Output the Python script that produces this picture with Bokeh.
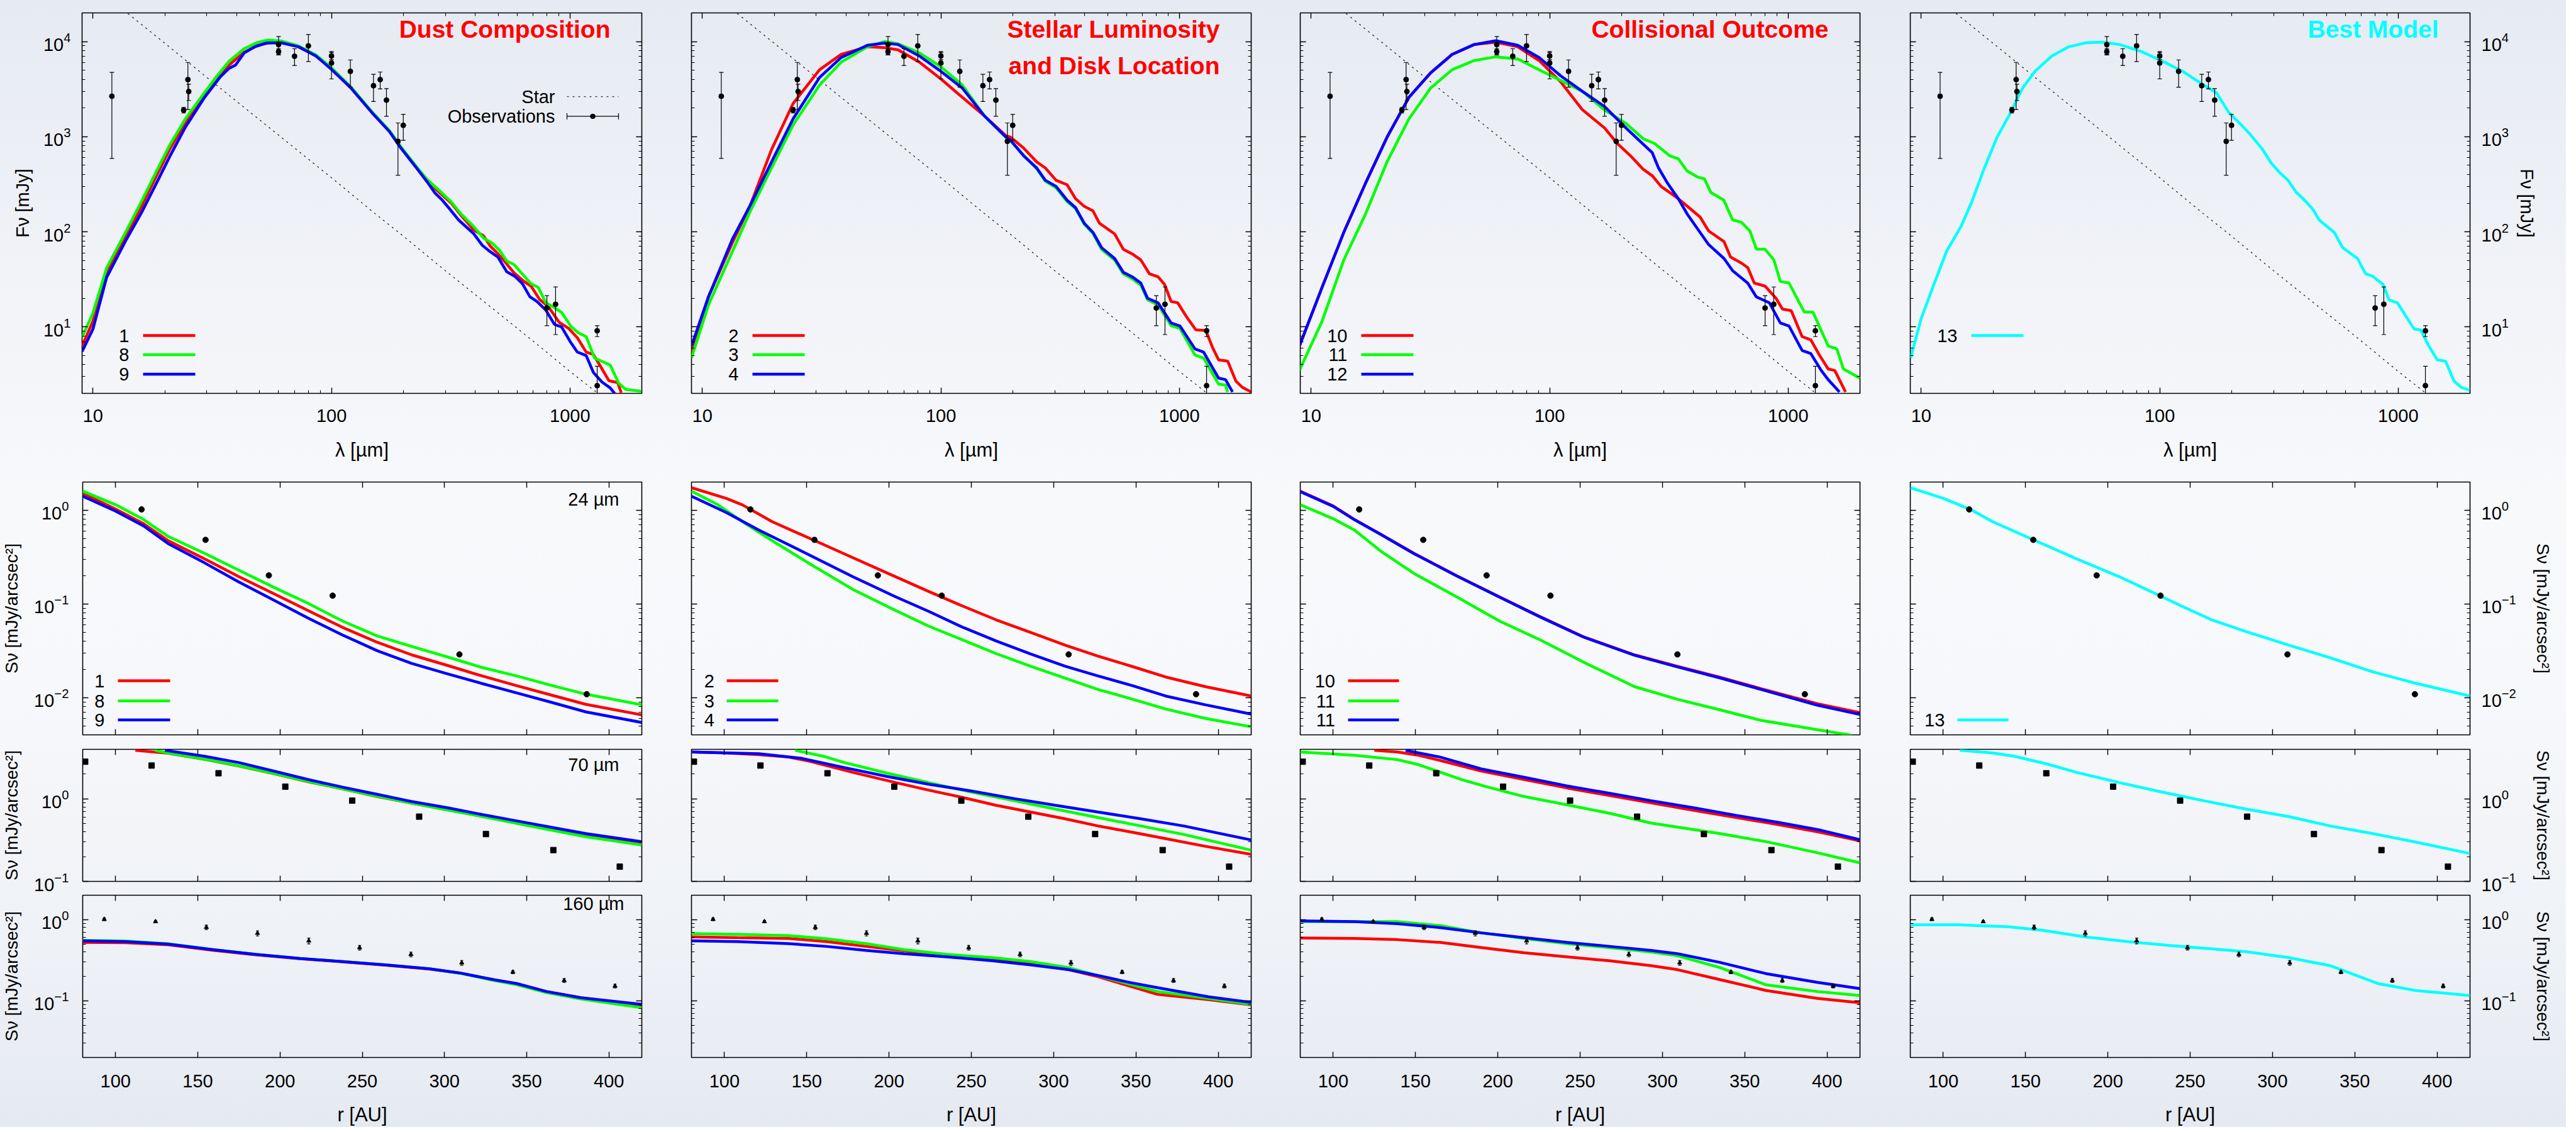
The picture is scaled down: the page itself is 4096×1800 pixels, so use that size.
import math
from bokeh.plotting import figure
from bokeh.models import (LogAxis, LinearAxis, FixedTicker, PrintfTickFormatter,
                          CustomJSTickFormatter, Label, Arrow, Range1d)
from bokeh.layouts import column, row
from bokeh.embed import file_html
from bokeh.resources import INLINE

FONT = "Liberation Sans"
RED, GREEN, BLUE, CYAN = "#ff0000", "#00ff00", "#0000ff", "#00ffff"

# ---------------- SED observations ----------------
obs_wl = [12, 24, 25, 25.2, 60, 60, 70, 80, 100, 100, 120, 150, 160, 170, 190, 200, 800, 870, 1300, 1300]
obs_f = [2660, 1900, 3980, 2980, 9290, 7830, 7000, 9010, 7050, 5945, 4860, 3430, 3980, 2420, 893, 1315, 15.8, 17.3, 9.1, 2.41]
obs_e = [2070, 130, 2050, 580, 2000, 600, 1400, 2850, 600, 1900, 1550, 1090, 800, 780, 500, 400, 5.5, 9.0, 1.2, 1.45]

star_wl = [14, 20, 30, 50, 70, 100, 150, 200, 300, 500, 700, 1000, 1400]
star_f = [19700, 9600, 4200, 1500, 760, 370, 160, 90, 39, 14, 7.1, 3.4, 1.75]

# ---------------- SED models ----------------
wl1 = [9, 10, 11.4, 13.7, 16, 18.4, 21, 24.4, 29.4, 33, 37.3, 43, 49, 56, 62, 72.7, 86, 100, 120, 148, 175, 195, 230, 252, 277, 319, 350, 394, 434, 465, 499, 535, 583, 641, 687, 745, 810, 900, 984, 1073, 1169, 1253, 1362, 1458, 1585, 1640]
f1 = [6.3, 11.5, 36, 90, 185, 380, 740, 1400, 2750, 4000, 5700, 7700, 9100, 9850, 9800, 8800, 7100, 5150, 3300, 1790, 1140, 770, 455, 340, 273, 198, 148, 105, 90.6, 69.8, 58.6, 47.9, 36.9, 30.1, 26.8, 19.5, 16.4, 11.2, 9.7, 7.7, 5.43, 5.13, 3.62, 2.71, 2.6, 2.03]
wl8 = [9, 10, 11.4, 13.7, 16, 18.4, 21, 24.4, 29.4, 33, 37.3, 43, 49, 54, 62, 72.7, 86, 100, 120, 148, 175, 195, 230, 253, 284, 319, 350, 394, 434, 471, 506, 543, 583, 632, 687, 736, 792, 861, 922, 1013, 1084, 1169, 1268, 1374, 1475, 1600, 1714, 1860, 2000]
f8 = [7.8, 14, 41.5, 99, 210, 427, 820, 1538, 2925, 4300, 6240, 8400, 9800, 10380, 10100, 9000, 7250, 5300, 3380, 1820, 1160, 790, 465, 350, 270, 204, 153, 114, 85.5, 76.2, 64, 49.3, 45.2, 35.8, 28.4, 26, 17.9, 15.9, 14.2, 10, 8.65, 7.9, 4.7, 4.3, 3.96, 2.56, 2.2, 2.15, 2.1]
wl9 = [9, 10, 11.4, 13.8, 16, 18.4, 21, 24.4, 29.4, 34.2, 37.2, 39.6, 43.1, 47.7, 53.2, 61.5, 72.7, 86, 100, 120, 148, 175, 195, 230, 252, 271, 291, 311, 342, 394, 429, 454, 499, 543, 589, 632, 679, 728, 792, 861, 922, 1000, 1073, 1169, 1253, 1362, 1475, 1544]
f9 = [5.5, 9.5, 33, 83, 160, 319, 620, 1256, 2600, 4250, 5230, 5650, 7600, 8810, 9630, 9700, 8810, 7050, 5100, 3300, 1780, 1130, 764, 450, 334, 257, 216, 177, 132, 96, 72, 64, 54, 38, 33.8, 28.4, 20.7, 18.4, 15, 10.6, 10, 7.06, 5.44, 4.99, 3.32, 2.63, 2.28, 1.97]

wl2 = [9, 10.6, 13.4, 15.9, 19.5, 24, 31, 38.2, 49.2, 58.1, 66.1, 81.2, 100, 123, 152, 187.5, 196, 222, 252, 274, 304, 338, 367, 399, 434, 462, 535, 582, 634, 689, 749, 814, 867, 923, 984, 1070, 1172, 1291, 1376, 1460, 1594, 1726, 1834, 2000]
f2 = [5.2, 20.7, 78, 192, 733, 2230, 5050, 7330, 8810, 8610, 8180, 6080, 4040, 2590, 1656, 1023, 986, 760, 543, 469, 348, 312, 223, 185, 166, 123, 94.9, 65.4, 58.6, 50.5, 36.1, 33.6, 27.9, 18.5, 17.9, 12.8, 9.3, 9.15, 6.1, 4.5, 4.36, 2.69, 2.32, 2.07]
wl3 = [9, 10.6, 13.4, 15.9, 19.5, 24, 31, 38.2, 49.2, 58.1, 66.1, 81.2, 100, 123, 152, 187.5, 196, 222, 252, 274, 304, 338, 367, 399, 434, 472, 535, 582, 634, 689, 735, 814, 923, 1006, 1163, 1263, 1460, 1561, 1594]
f3 = [4.7, 17, 63, 166, 469, 1327, 3485, 6080, 8810, 10000, 9490, 7600, 5430, 3485, 1656, 986, 900, 640, 460, 340, 290, 208, 175, 120, 96, 65, 50.5, 36, 32, 27.5, 19.3, 17, 10.3, 9.6, 5.05, 4.7, 2.5, 2.45, 2.07]
wl4 = [9, 10.6, 13.4, 15.9, 19.5, 24, 31, 38.2, 49.2, 58.1, 66.1, 81.2, 100, 123, 152, 187.5, 196, 222, 252, 274, 304, 338, 367, 399, 434, 472, 535, 582, 634, 689, 735, 814, 923, 1006, 1163, 1263, 1460, 1561, 1670]
f4 = [6.3, 20.7, 85, 192, 543, 1538, 4195, 6800, 9140, 9630, 9290, 7050, 4860, 3240, 1656, 986, 915, 631, 469, 348, 300, 215, 179, 123, 98.6, 68, 52.4, 37.5, 33.6, 28.9, 20, 17.9, 11, 10.2, 5.86, 5.44, 2.89, 2.79, 2.07]

wl10 = [8.93, 11.1, 13.7, 16.9, 20.8, 25.7, 31.7, 39, 48.2, 59.5, 73.4, 90.3, 111.3, 137, 170, 192, 218, 247, 269, 293, 346, 384, 427, 464, 538, 573, 636, 677, 721, 800, 889, 946, 1030, 1144, 1244, 1352, 1471, 1568, 1740]
f10 = [6.3, 25.9, 98.6, 324, 986, 2590, 4690, 7330, 9290, 9850, 8810, 6310, 3750, 1923, 1231, 849, 631, 452, 389, 300, 223, 179, 143, 102, 78.9, 54.3, 46.9, 42, 28.9, 26.8, 20, 15.4, 14.8, 7.9, 7.3, 5.05, 3.61, 3.48, 2.07]
wl11 = [8.93, 11.1, 13.7, 16.9, 20.8, 25.7, 31.7, 39, 48.2, 59.5, 73.4, 90.3, 111.3, 137, 169, 209, 247, 275, 318, 346, 377, 418, 445, 474, 537, 585, 636, 691, 736, 800, 871, 927, 1008, 1168, 1270, 1471, 1600, 1704, 1999]
f11 = [3.5, 11.4, 50.5, 154, 543, 1538, 3240, 5050, 6310, 6900, 6550, 5050, 3890, 3000, 1923, 1376, 948, 849, 631, 586, 435, 375, 361, 259, 215, 133, 126, 102, 65.5, 65.5, 50.5, 30, 28.9, 14.3, 14.3, 6.3, 5.86, 3.61, 2.89]
wl12 = [8.93, 11.1, 13.7, 16.9, 20.8, 25.7, 31.7, 39, 48.2, 59.5, 73.4, 90.3, 111.3, 137, 170, 209, 237, 269, 286, 312, 346, 377, 427, 464, 538, 585, 676, 735, 834, 927, 1008, 1144, 1244, 1376, 1471, 1640]
f12 = [6.3, 25.9, 98.6, 324, 986, 2590, 4690, 7330, 9290, 10200, 9140, 6800, 4350, 3000, 2070, 1231, 915, 679, 469, 324, 223, 154, 98.6, 73.3, 52.4, 38.9, 28.9, 20.7, 17.9, 11, 10.2, 5.65, 5.24, 3.48, 2.79, 2.07]

wl13 = [9.03, 10, 11.3, 12.8, 14.7, 16.3, 18.4, 20.8, 23.5, 26.6, 30, 35.3, 41.6, 49, 57.6, 67.9, 83.3, 101.5, 124.8, 152.9, 173, 195, 220, 239, 270, 294, 318, 345, 374, 405, 439, 466, 539, 585, 675, 730, 778, 864, 915, 992, 1166, 1241, 1344, 1458, 1580, 1714, 1835, 1995]
f13 = [4.7, 12.3, 27.9, 63, 114, 207, 469, 986, 1718, 3240, 4860, 7050, 8810, 9700, 9850, 9290, 7890, 6310, 4860, 3485, 2890, 1786, 1327, 1062, 733, 524, 420, 348, 259, 215, 172, 133, 98.6, 68, 52.4, 36.1, 34.3, 27.9, 19.2, 17.9, 9.5, 9.3, 6.3, 4.5, 4.36, 2.69, 2.32, 2.15]

# ---------------- radial profile observations ----------------
r24_obs = [115.8, 154.7, 193.2, 232.0, 309.1, 386.5]
s24_obs = [1.02, 0.483, 0.2017, 0.1225, 0.0289, 0.01087]
r70_obs = [81.5, 121.9, 162.6, 203.2, 243.9, 284.6, 325.2, 366.2, 406.6]
s70_obs = [2.83, 2.54, 2.05, 1.41, 0.954, 0.61, 0.375, 0.24, 0.151]
r160_obs = [93.1, 124.3, 155.2, 186.3, 217.5, 248.4, 279.6, 310.5, 341.6, 372.8, 403.7]
s160_obs = [1.01, 0.945, 0.805, 0.68, 0.548, 0.452, 0.373, 0.294, 0.226, 0.178, 0.152]
e160_obs = [0.04, 0.03, 0.05, 0.05, 0.045, 0.03, 0.025, 0.02, 0.01, 0.01, 0.008]

# ---------------- radial profile models ----------------
# panel 1 (models 1, 8, 9)
r24_p1 = [80, 100, 117, 132, 154, 175, 196, 217, 238, 259, 280, 302, 323, 344, 365, 386, 420]
s24_m1 = [1.52, 1.03, 0.717, 0.473, 0.303, 0.195, 0.129, 0.0851, 0.0562, 0.039, 0.0286, 0.022, 0.017, 0.0134, 0.01064, 0.00847, 0.00653]
s24_m8 = [1.6, 1.145, 0.796, 0.525, 0.347, 0.229, 0.151, 0.1015, 0.0657, 0.0456, 0.0352, 0.0271, 0.0209, 0.017, 0.0135, 0.01087, 0.00838]
s24_m9 = [1.41, 0.98, 0.681, 0.44, 0.275, 0.171, 0.11, 0.0706, 0.0466, 0.0317, 0.0232, 0.0179, 0.0141, 0.0112, 0.0089, 0.00703, 0.00542]
r70_m1 = [112, 132, 154, 175, 196, 217, 238, 259, 280, 302, 323, 344, 365, 386, 420]
s70_m1 = [3.89, 3.58, 3.03, 2.51, 2.03, 1.62, 1.33, 1.07, 0.889, 0.736, 0.616, 0.51, 0.423, 0.354, 0.283]
r70_m8 = [124, 132, 154, 175, 196, 217, 238, 259, 280, 302, 323, 344, 365, 386, 420]
s70_m8 = [3.89, 3.6, 3.05, 2.52, 2.04, 1.63, 1.33, 1.08, 0.89, 0.735, 0.613, 0.505, 0.418, 0.348, 0.276]
r70_m9 = [130, 154, 175, 196, 217, 238, 259, 280, 302, 323, 344, 365, 386, 420]
s70_m9 = [3.89, 3.3, 2.76, 2.18, 1.72, 1.39, 1.14, 0.93, 0.78, 0.646, 0.541, 0.453, 0.38, 0.303]
r160_p1 = [80, 106, 132, 159, 185, 212, 238, 264, 291, 309, 330, 344, 362, 383, 420]
s160_m1 = [0.524, 0.52, 0.49, 0.42, 0.368, 0.33, 0.302, 0.275, 0.246, 0.22, 0.18, 0.162, 0.13, 0.109, 0.087]
s160_m8 = [0.555, 0.545, 0.505, 0.43, 0.373, 0.333, 0.304, 0.277, 0.248, 0.219, 0.178, 0.158, 0.126, 0.105, 0.082]
s160_m9 = [0.548, 0.536, 0.5, 0.427, 0.373, 0.333, 0.304, 0.277, 0.248, 0.221, 0.182, 0.163, 0.13, 0.109, 0.0905]

# panel 2 (models 2, 3, 4)
r24_m2 = [80, 101, 111, 129, 152, 178, 204, 224, 245, 265, 286, 307, 327, 348, 368, 392, 420]
s24_m2 = [1.74, 1.34, 1.14, 0.755, 0.499, 0.312, 0.195, 0.136, 0.0944, 0.0677, 0.0496, 0.0363, 0.0277, 0.0214, 0.0166, 0.0131, 0.0104]
r24_m3 = [80, 96, 111, 129, 152, 178, 204, 224, 245, 265, 286, 307, 327, 348, 368, 392, 420]
s24_m3 = [1.6, 1.145, 0.755, 0.473, 0.267, 0.143, 0.0851, 0.058, 0.0411, 0.0295, 0.0216, 0.0161, 0.0122, 0.0096, 0.00755, 0.006, 0.00488]
r24_m4 = [80, 101, 121, 147, 178, 204, 224, 245, 265, 286, 307, 327, 348, 368, 392, 420]
s24_m4 = [1.41, 0.949, 0.613, 0.365, 0.195, 0.119, 0.0834, 0.0561, 0.0403, 0.0292, 0.0216, 0.017, 0.0134, 0.0104, 0.00838, 0.00667]
r70_m2 = [80, 101, 121, 139, 152, 178, 204, 224, 245, 265, 286, 307, 327, 348, 368, 392, 420]
s70_m2 = [3.71, 3.62, 3.45, 3.22, 2.86, 2.1, 1.58, 1.28, 1.04, 0.838, 0.693, 0.574, 0.47, 0.394, 0.33, 0.267, 0.213]
r70_m3 = [143, 160, 173, 199, 224, 250, 276, 301, 327, 353, 379, 420]
s70_m3 = [3.89, 3.3, 2.76, 2.05, 1.58, 1.21, 0.954, 0.753, 0.595, 0.47, 0.371, 0.239]
r70_m4 = [80, 121, 147, 173, 199, 224, 250, 276, 301, 327, 353, 379, 420]
s70_m4 = [3.71, 3.54, 3.11, 2.4, 1.87, 1.51, 1.25, 1.01, 0.838, 0.693, 0.574, 0.47, 0.318]
r160_p2 = [80, 108, 139, 162, 186, 209, 235, 263, 286, 309, 327, 345, 363, 394, 420]
s160_m2 = [0.614, 0.6, 0.586, 0.536, 0.468, 0.413, 0.36, 0.322, 0.287, 0.242, 0.198, 0.154, 0.12, 0.1035, 0.0893]
s160_m3 = [0.673, 0.657, 0.635, 0.58, 0.506, 0.427, 0.373, 0.34, 0.304, 0.256, 0.204, 0.163, 0.13, 0.107, 0.0903]
s160_m4 = [0.548, 0.536, 0.506, 0.468, 0.418, 0.381, 0.348, 0.311, 0.277, 0.242, 0.205, 0.17, 0.145, 0.112, 0.0955]

# panel 3 (models 10, 11, 12)
r24_p3 = [80, 100, 113, 129, 149, 175, 201, 226, 252, 283, 309, 335, 360, 394, 420]
s24_m10 = [1.6, 1.11, 0.796, 0.553, 0.347, 0.2, 0.119, 0.0727, 0.0446, 0.0286, 0.0216, 0.0165, 0.01245, 0.0086, 0.0069]
s24_m12 = [1.58, 1.1, 0.79, 0.55, 0.345, 0.199, 0.118, 0.0722, 0.0443, 0.0283, 0.0213, 0.0162, 0.0122, 0.0083, 0.0066]
r24_m11 = [80, 100, 113, 129, 149, 175, 201, 226, 252, 283, 309, 335, 360, 394, 415]
s24_m11 = [1.145, 0.812, 0.613, 0.365, 0.212, 0.119, 0.0656, 0.0411, 0.0239, 0.0131, 0.0096, 0.0074, 0.0057, 0.00454, 0.00396]
r70_m10 = [125, 139, 152, 165, 190, 216, 242, 268, 293, 319, 345, 371, 396, 420]
s70_m10 = [3.89, 3.71, 3.38, 2.93, 2.18, 1.72, 1.36, 1.1, 0.9, 0.727, 0.595, 0.486, 0.394, 0.31]
r70_m11 = [80, 113, 139, 152, 178, 193, 216, 242, 268, 293, 335, 363, 394, 420]
s70_m11 = [3.71, 3.38, 3.0, 2.6, 1.72, 1.41, 1.07, 0.848, 0.669, 0.51, 0.38, 0.303, 0.223, 0.168]
r70_m12 = [144, 165, 190, 216, 242, 268, 293, 319, 345, 371, 396, 420]
s70_m12 = [3.89, 3.22, 2.31, 1.83, 1.44, 1.17, 0.954, 0.78, 0.631, 0.516, 0.418, 0.32]
r160_p3 = [80, 113, 139, 165, 190, 216, 242, 268, 293, 309, 335, 363, 394, 420]
s160_m10 = [0.593, 0.585, 0.567, 0.524, 0.452, 0.39, 0.348, 0.311, 0.271, 0.242, 0.182, 0.134, 0.107, 0.0945]
s160_m11 = [0.945, 0.945, 0.945, 0.844, 0.687, 0.586, 0.506, 0.452, 0.4, 0.36, 0.256, 0.157, 0.13, 0.116]
s160_m12 = [0.966, 0.945, 0.893, 0.797, 0.687, 0.6, 0.524, 0.468, 0.418, 0.381, 0.297, 0.216, 0.169, 0.141]

# panel 4 (model 13)
r24_m13 = [80, 100, 117, 130, 156, 181, 207, 233, 245, 263, 284, 310, 335, 361, 387, 420]
s24_m13 = [1.74, 1.34, 1.01, 0.755, 0.473, 0.303, 0.195, 0.119, 0.0944, 0.0677, 0.0506, 0.0363, 0.0266, 0.0188, 0.0142, 0.0104]
r70_m13 = [110, 130, 143, 163, 181, 207, 233, 258, 284, 310, 335, 361, 387, 420]
s70_m13 = [3.89, 3.62, 3.3, 2.66, 2.1, 1.58, 1.21, 0.954, 0.753, 0.61, 0.47, 0.38, 0.3, 0.218]
r160_m13 = [80, 109, 140, 161, 186, 212, 238, 263, 284, 310, 335, 364, 387, 420]
s160_m13 = [0.863, 0.863, 0.815, 0.736, 0.614, 0.536, 0.479, 0.437, 0.403, 0.34, 0.271, 0.163, 0.134, 0.116]

# ---------------- axes / labels ----------------
SED_XR, SED_YR = (9, 2000), (2, 20000)
PR_XR = (80, 420)
YR24, YR70, YR160 = (0.004, 2), (0.1, 4), (0.02, 2)
SED_XTICKS = [10, 100, 1000]
SED_YTICKS = [10, 100, 1000, 10000]
R_TICKS = [100, 150, 200, 250, 300, 350, 400]
Y24_TICKS = [0.01, 0.1, 1]
Y70_TICKS = [0.1, 1]
Y160_TICKS = [0.1, 1]
SED_YLABEL = "Fν [mJy]"
PR_YLABEL = "Sν [mJy/arcsec²]"
TITLES = [["Dust Composition"], ["Stellar Luminosity", "and Disk Location"],
          ["Collisional Outcome"], ["Best Model"]]
TITLE_COLORS = [RED, RED, RED, CYAN]


def minors(e0, e1):
    return [m * 10.0 ** e for e in range(e0, e1 + 1) for m in range(2, 10)]


FW = 890
COLS = [(130, 40), (39, 41), (37, 38), (42, 153)]
ROWS = [(20, 613, 102), (31, 402, 12), (11, 210, 20), (2, 275, 94)]
LW = 4.5
SED_YSIZE, PR_YSIZE = 29, 28


def new_fig(lb, rb, ri, xlog, xr, yr):
    tb, fh, bb = ROWS[ri]
    p = figure(width=lb + FW + rb, height=tb + fh + bb,
               x_axis_type="log" if xlog else "linear", y_axis_type="log",
               x_range=Range1d(*xr), y_range=Range1d(*yr),
               x_axis_location=None, y_axis_location=None,
               toolbar_location=None, output_backend="svg", title=None,
               min_border_left=lb, min_border_right=rb,
               min_border_top=tb, min_border_bottom=bb)
    p.xgrid.visible = False
    p.ygrid.visible = False
    p.background_fill_alpha = 0
    p.border_fill_alpha = 0
    p.outline_line_color = "black"
    p.outline_line_width = 1.6
    return p


def style_label(ax, text, size, standoff):
    ax.axis_label = text
    ax.axis_label_text_font = FONT
    ax.axis_label_text_font_size = f"{size}px"
    ax.axis_label_text_font_style = "normal"
    ax.axis_label_text_color = "black"
    ax.axis_label_standoff = int(standoff)


def add_axis(p, side, log, ticks, minor, show, fmt=None, standoff=15,
             label=None, label_standoff=10, label_size=29):
    cls = LogAxis if log else LinearAxis
    ax = cls(ticker=FixedTicker(ticks=ticks, minor_ticks=minor))
    ax.axis_line_color = None
    ax.major_tick_in, ax.major_tick_out = 9, 0
    ax.minor_tick_in, ax.minor_tick_out = 5, 0
    ax.major_tick_line_color = "black"
    ax.minor_tick_line_color = "black"
    ax.major_tick_line_width = 1.4
    ax.minor_tick_line_width = 1.1
    if show:
        if fmt is not None:
            ax.formatter = fmt
        ax.major_label_text_font = FONT
        ax.major_label_text_font_size = "29px"
        ax.major_label_text_color = "black"
        ax.major_label_standoff = standoff
    else:
        ax.formatter = CustomJSTickFormatter(code="return ''")
        ax.major_label_text_font_size = "0px"
        ax.major_label_standoff = 0
    if label:
        style_label(ax, label, label_size, label_standoff)
    p.add_layout(ax, side)
    return ax


def label(p, x, y, text, size=29, align="left", baseline="middle", color="black",
          style="normal"):
    p.add_layout(Label(x=x, y=y, x_units="screen", y_units="screen", text=text,
                       text_font=FONT, text_font_size=f"{size:.1f}px", text_align=align,
                       text_baseline=baseline, text_color=color, text_font_style=style))


def seg(p, x0, y0, x1, y1, color, width, dash="solid", cap="butt"):
    p.add_layout(Arrow(start=None, end=None, x_start=x0, y_start=y0, x_end=x1, y_end=y1,
                       start_units="screen", end_units="screen", line_color=color,
                       line_width=width, line_dash=dash, line_cap=cap))


def legend(p, entries, x_text, x0, x1, ys):
    for (txt, color), y in zip(entries, ys):
        if txt is None:
            continue
        label(p, x_text, y, txt, align="right")
        seg(p, x0, y, x1, y, color, LW)


def sed_panel(ci, models, leg_entries):
    lb, rb = COLS[ci]
    p = new_fig(lb, rb, 0, True, SED_XR, SED_YR)
    xm, ym = minors(0, 3), minors(0, 4)
    add_axis(p, "below", True, SED_XTICKS, xm, True, fmt=PrintfTickFormatter(format="%d"),
             standoff=25, label="λ [µm]", label_standoff=24, label_size=31)
    add_axis(p, "above", True, SED_XTICKS, xm, False)
    add_axis(p, "left", True, SED_YTICKS, ym, ci == 0, standoff=18,
             label=SED_YLABEL if ci == 0 else None, label_standoff=14, label_size=SED_YSIZE)
    add_axis(p, "right", True, SED_YTICKS, ym, ci == 3, standoff=18,
             label=SED_YLABEL if ci == 3 else None, label_standoff=10, label_size=SED_YSIZE)
    p.line(star_wl, star_f, line_color="black", line_width=1.1, line_dash="3 6")
    for wl, f, c in models:
        p.line(wl, f, line_color=c, line_width=LW)
    lo = [f - e for f, e in zip(obs_f, obs_e)]
    hi = [f + e for f, e in zip(obs_f, obs_e)]
    p.segment(obs_wl, lo, obs_wl, hi, line_color="black", line_width=1.2)
    p.scatter(obs_wl + obs_wl, lo + hi, marker="dash", size=7, line_color="black", line_width=1.2)
    p.scatter(obs_wl, obs_f, marker="circle", size=8, color="black")
    fh = ROWS[0][1]
    for k, t in enumerate(TITLES[ci]):
        label(p, 840, fh - 33.6 - 58 * k, t, size=39, align="right",
              color=TITLE_COLORS[ci], style="bold")
    legend(p, leg_entries, 75, 97, 180, [92, 61.5, 30.4])
    if ci == 0:
        label(p, 752, 471.7, "Star", align="right")
        seg(p, 771, 471.7, 853, 471.7, "black", 1.1, dash="3 6")
        label(p, 752, 440.6, "Observations", align="right")
        seg(p, 771, 440.6, 853, 440.6, "black", 1.2)
        seg(p, 771, 435.6, 771, 445.6, "black", 1.2)
        seg(p, 853, 435.6, 853, 445.6, "black", 1.2)
        seg(p, 811.8, 440.6, 812.3, 440.6, "black", 8, cap="round")
    return p


def prof_panel(ci, ri, yr, yticks, ym, curves, kind, leg=None, tag=None):
    lb, rb = COLS[ci]
    p = new_fig(lb, rb, ri, False, PR_XR, yr)
    last = ri == 3
    add_axis(p, "below", False, R_TICKS, [], last, standoff=27,
             label="r [AU]" if last else None, label_standoff=23, label_size=31)
    add_axis(p, "above", False, R_TICKS, [], False)
    add_axis(p, "left", True, yticks, ym, ci == 0, standoff=22,
             label=PR_YLABEL if ci == 0 else None, label_standoff=17, label_size=PR_YSIZE)
    add_axis(p, "right", True, yticks, ym, ci == 3, standoff=18,
             label=PR_YLABEL if ci == 3 else None, label_standoff=24, label_size=PR_YSIZE)
    for r, s, c in curves:
        p.line(r, s, line_color=c, line_width=LW)
    if kind == 24:
        p.scatter(r24_obs, s24_obs, marker="circle", size=9, color="black")
    elif kind == 70:
        p.scatter(r70_obs, s70_obs, marker="square", size=9, color="black")
    else:
        lo = [s - e for s, e in zip(s160_obs, e160_obs)]
        hi = [s + e for s, e in zip(s160_obs, e160_obs)]
        p.segment(r160_obs, lo, r160_obs, hi, line_color="black", line_width=1.1)
        p.scatter(r160_obs + r160_obs, lo + hi, marker="dash", size=5, line_color="black", line_width=1.1)
        p.scatter(r160_obs, s160_obs, marker="triangle", size=7, color="black")
    fh = ROWS[ri][1]
    if leg is not None:
        entries, xt, x0, x1 = leg
        legend(p, entries, xt, x0, x1, [86, 54, 23.7])
    if tag is not None:
        txt, xr_, dy = tag
        label(p, xr_, fh - dy, txt, align="right")
    return p


m24, m70, m160 = minors(-3, 0), minors(-2, 0), minors(-2, 0)

sed = [
    sed_panel(0, [(wl1, f1, RED), (wl8, f8, GREEN), (wl9, f9, BLUE)],
              [("1", RED), ("8", GREEN), ("9", BLUE)]),
    sed_panel(1, [(wl2, f2, RED), (wl3, f3, GREEN), (wl4, f4, BLUE)],
              [("2", RED), ("3", GREEN), ("4", BLUE)]),
    sed_panel(2, [(wl10, f10, RED), (wl11, f11, GREEN), (wl12, f12, BLUE)],
              [("10", RED), ("11", GREEN), ("12", BLUE)]),
    sed_panel(3, [(wl13, f13, CYAN)], [("13", CYAN)]),
]

leg1 = ([("1", RED), ("8", GREEN), ("9", BLUE)], 35, 56, 139)
leg2 = ([("2", RED), ("3", GREEN), ("4", BLUE)], 36.5, 56, 138)
leg3 = ([("10", RED), ("11", GREEN), ("11", BLUE)], 55.4, 76, 157)
leg4 = ([(None, None), (None, None), ("13", CYAN)], 54.8, 75, 156)

row24 = [
    prof_panel(0, 1, YR24, Y24_TICKS, m24, [(r24_p1, s24_m1, RED), (r24_p1, s24_m8, GREEN), (r24_p1, s24_m9, BLUE)], 24, leg1, ("24 µm", 853, 27)),
    prof_panel(1, 1, YR24, Y24_TICKS, m24, [(r24_m2, s24_m2, RED), (r24_m3, s24_m3, GREEN), (r24_m4, s24_m4, BLUE)], 24, leg2),
    prof_panel(2, 1, YR24, Y24_TICKS, m24, [(r24_p3, s24_m10, RED), (r24_m11, s24_m11, GREEN), (r24_p3, s24_m12, BLUE)], 24, leg3),
    prof_panel(3, 1, YR24, Y24_TICKS, m24, [(r24_m13, s24_m13, CYAN)], 24, leg4),
]
row70 = [
    prof_panel(0, 2, YR70, Y70_TICKS, m70, [(r70_m1, s70_m1, RED), (r70_m8, s70_m8, GREEN), (r70_m9, s70_m9, BLUE)], 70, None, ("70 µm", 853, 24.3)),
    prof_panel(1, 2, YR70, Y70_TICKS, m70, [(r70_m2, s70_m2, RED), (r70_m3, s70_m3, GREEN), (r70_m4, s70_m4, BLUE)], 70),
    prof_panel(2, 2, YR70, Y70_TICKS, m70, [(r70_m10, s70_m10, RED), (r70_m11, s70_m11, GREEN), (r70_m12, s70_m12, BLUE)], 70),
    prof_panel(3, 2, YR70, Y70_TICKS, m70, [(r70_m13, s70_m13, CYAN)], 70),
]
row160 = [
    prof_panel(0, 3, YR160, Y160_TICKS, m160, [(r160_p1, s160_m1, RED), (r160_p1, s160_m8, GREEN), (r160_p1, s160_m9, BLUE)], 160, None, ("160 µm", 861, 30)),
    prof_panel(1, 3, YR160, Y160_TICKS, m160, [(r160_p2, s160_m2, RED), (r160_p2, s160_m3, GREEN), (r160_p2, s160_m4, BLUE)], 160),
    prof_panel(2, 3, YR160, Y160_TICKS, m160, [(r160_p3, s160_m10, RED), (r160_p3, s160_m11, GREEN), (r160_p3, s160_m12, BLUE)], 160),
    prof_panel(3, 3, YR160, Y160_TICKS, m160, [(r160_m13, s160_m13, CYAN)], 160),
]

layout = column(row(*sed, spacing=0), row(*row24, spacing=0), row(*row70, spacing=0),
                row(*row160, spacing=0), spacing=0,
                styles={"background": "linear-gradient(180deg, #e6eaf2 0%, #f1f3f8 25%, #f8f9fb 45%, #f7f8fb 62%, #eef1f6 85%, #e5e9f1 100%)",
                        "margin-bottom": "-8px"})

open("out.html", "w").write(file_html(layout, INLINE))
